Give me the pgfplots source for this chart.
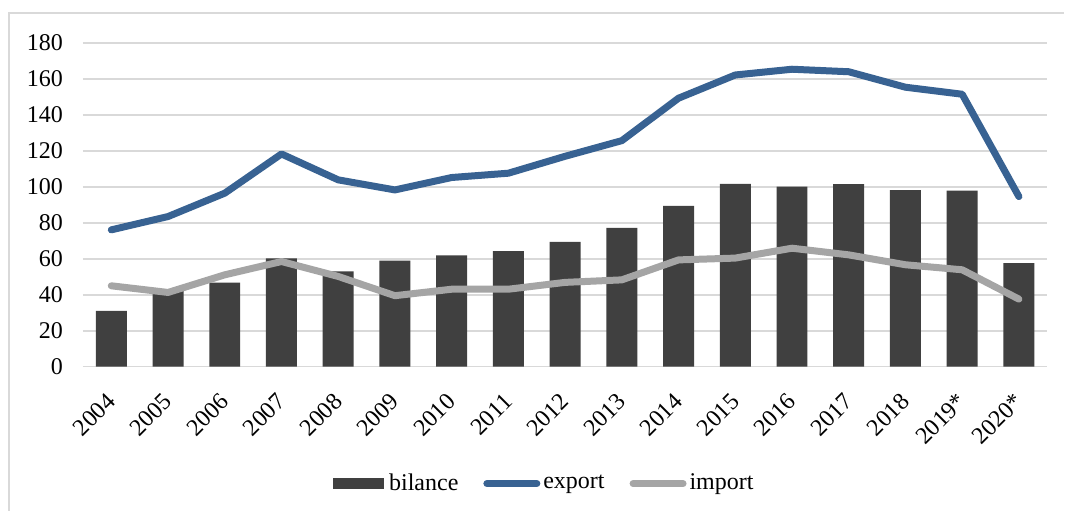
\documentclass[border=0pt]{standalone}
\usepackage{fontspec}
\setmainfont{Liberation Serif}
\usepackage{pgfplots}
\pgfplotsset{compat=1.18}
\definecolor{barc}{HTML}{404040}
\definecolor{expc}{HTML}{386292}
\definecolor{impc}{HTML}{A5A5A5}
\definecolor{gridc}{HTML}{D9D9D9}
\pgfplotsset{
    linelegend/.style={legend image code/.code={\draw[##1] (3.5pt,0pt) -- (53.5pt,0pt);}},
    barlegend/.style={legend image code/.code={\fill[barc] (0pt,-5.5pt) rectangle (51pt,5.5pt); \path (53pt,0pt);}},
}

\begin{document}
\fontsize{24}{28}\selectfont
\begin{tikzpicture}
\fill[white] (0pt,0pt) rectangle (1065pt,511pt);
\draw[gridc, line width=1.5pt] (9pt,0pt) -- (9pt,498pt) -- (1065pt,498pt);
\begin{axis}[
    at={(83pt,144pt)}, anchor=south west,
    scale only axis,
    width=965pt, height=324pt,
    xmin=-0.5, xmax=16.5,
    ymin=0, ymax=180,
    ytick={0,20,...,180},
    xtick={0,...,16},
    xticklabels={2004,2005,2006,2007,2008,2009,2010,2011,2012,2013,2014,2015,2016,2017,2018,2019*,2020*},
    ymajorgrids,
    grid style={gridc, line width=1.5pt},
    axis line style={draw=none},
    major tick length=0pt,
    /pgf/number format/assume math mode=true,
    tick label style={font=\fontsize{24}{28}\selectfont},
    yticklabel style={anchor=east, inner sep=0pt, xshift=-20pt},
    xticklabel style={xshift=-6pt, yshift=-25pt, rotate=45, anchor=north east, inner sep=0pt},
    legend columns=3,
    legend style={at={(0.479,-0.361)}, anchor=center, draw=none, fill=none,
        font=\fontsize{24}{28}\selectfont,
        nodes={inner sep=3pt},
        /tikz/every even column/.append style={column sep=22pt}},
]
\addplot[ybar, bar width=31pt, fill=barc, draw=none, barlegend]
coordinates {
(0,31.1) (1,42) (2,46.7) (3,60.2) (4,53) (5,59) (6,61.9) (7,64.3) (8,69.4)
(9,77.2) (10,89.4) (11,101.7) (12,100.2) (13,101.5) (14,98.2) (15,97.9) (16,57.6)
};
\addlegendentry{bilance}
\addplot[expc, line width=7pt, line join=round, line cap=round, mark=none, linelegend]
coordinates {
(0,76.1) (1,83.5) (2,96.5) (3,118.3) (4,103.9) (5,98.3) (6,105.2) (7,107.6) (8,117)
(9,125.7) (10,149.3) (11,162.2) (12,165.4) (13,164) (14,155.4) (15,151.5) (16,94.6)
};
\addlegendentry{export}
\addplot[impc, line width=7pt, line join=round, line cap=round, mark=none, linelegend]
coordinates {
(0,45) (1,41.3) (2,51.1) (3,58.5) (4,50.2) (5,39.5) (6,43.1) (7,43.1) (8,46.9)
(9,48.3) (10,59.4) (11,60.4) (12,65.9) (13,62.2) (14,56.7) (15,53.9) (16,37.6)
};
\addlegendentry{import}
\end{axis}
\end{tikzpicture}
\end{document}
